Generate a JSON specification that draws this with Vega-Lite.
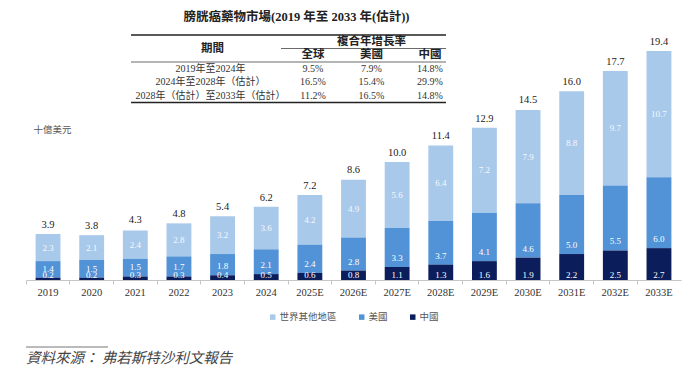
{
  "$schema": "https://vega.github.io/schema/vega-lite/v6.json",
  "padding": {"left": 25, "top": 10, "right": 5, "bottom": 0},
  "spacing": 24,
  "resolve": {"legend": {"color": "independent"}},
  "datasets": {
    "bars": [
      {"year": "2019", "region": "世界其他地區", "value": 2.3}, {"year": "2019", "region": "美國", "value": 1.4}, {"year": "2019", "region": "中國", "value": 0.2},
      {"year": "2020", "region": "世界其他地區", "value": 2.1}, {"year": "2020", "region": "美國", "value": 1.5}, {"year": "2020", "region": "中國", "value": 0.2},
      {"year": "2021", "region": "世界其他地區", "value": 2.4}, {"year": "2021", "region": "美國", "value": 1.5}, {"year": "2021", "region": "中國", "value": 0.3},
      {"year": "2022", "region": "世界其他地區", "value": 2.8}, {"year": "2022", "region": "美國", "value": 1.7}, {"year": "2022", "region": "中國", "value": 0.3},
      {"year": "2023", "region": "世界其他地區", "value": 3.2}, {"year": "2023", "region": "美國", "value": 1.8}, {"year": "2023", "region": "中國", "value": 0.4},
      {"year": "2024", "region": "世界其他地區", "value": 3.6}, {"year": "2024", "region": "美國", "value": 2.1}, {"year": "2024", "region": "中國", "value": 0.5},
      {"year": "2025E", "region": "世界其他地區", "value": 4.2}, {"year": "2025E", "region": "美國", "value": 2.4}, {"year": "2025E", "region": "中國", "value": 0.6},
      {"year": "2026E", "region": "世界其他地區", "value": 4.9}, {"year": "2026E", "region": "美國", "value": 2.8}, {"year": "2026E", "region": "中國", "value": 0.8},
      {"year": "2027E", "region": "世界其他地區", "value": 5.6}, {"year": "2027E", "region": "美國", "value": 3.3}, {"year": "2027E", "region": "中國", "value": 1.1},
      {"year": "2028E", "region": "世界其他地區", "value": 6.4}, {"year": "2028E", "region": "美國", "value": 3.7}, {"year": "2028E", "region": "中國", "value": 1.3},
      {"year": "2029E", "region": "世界其他地區", "value": 7.2}, {"year": "2029E", "region": "美國", "value": 4.1}, {"year": "2029E", "region": "中國", "value": 1.6},
      {"year": "2030E", "region": "世界其他地區", "value": 7.9}, {"year": "2030E", "region": "美國", "value": 4.6}, {"year": "2030E", "region": "中國", "value": 1.9},
      {"year": "2031E", "region": "世界其他地區", "value": 8.8}, {"year": "2031E", "region": "美國", "value": 5.0}, {"year": "2031E", "region": "中國", "value": 2.2},
      {"year": "2032E", "region": "世界其他地區", "value": 9.7}, {"year": "2032E", "region": "美國", "value": 5.5}, {"year": "2032E", "region": "中國", "value": 2.5},
      {"year": "2033E", "region": "世界其他地區", "value": 10.7}, {"year": "2033E", "region": "美國", "value": 6.0}, {"year": "2033E", "region": "中國", "value": 2.7}
    ],
    "totals": [
      {"year": "2019", "total": 3.9}, {"year": "2020", "total": 3.8}, {"year": "2021", "total": 4.3},
      {"year": "2022", "total": 4.8}, {"year": "2023", "total": 5.4}, {"year": "2024", "total": 6.2},
      {"year": "2025E", "total": 7.2}, {"year": "2026E", "total": 8.6}, {"year": "2027E", "total": 10.0},
      {"year": "2028E", "total": 11.4}, {"year": "2029E", "total": 12.9}, {"year": "2030E", "total": 14.5},
      {"year": "2031E", "total": 16.0}, {"year": "2032E", "total": 17.7}, {"year": "2033E", "total": 19.4}
    ],
    "table": [
      {"row": "h1", "col": "美國", "label": "複合年增長率"},
      {"row": "h1", "col": "期間", "label": "期間"},
      {"row": "h2", "col": "全球", "label": "全球"},
      {"row": "h2", "col": "美國", "label": "美國"},
      {"row": "h2", "col": "中國", "label": "中國"},
      {"row": "r1", "col": "期間", "label": "2019年至2024年"},
      {"row": "r1", "col": "全球", "label": "9.5%"},
      {"row": "r1", "col": "美國", "label": "7.9%"},
      {"row": "r1", "col": "中國", "label": "14.8%"},
      {"row": "r2", "col": "期間", "label": "2024年至2028年（估計）"},
      {"row": "r2", "col": "全球", "label": "16.5%"},
      {"row": "r2", "col": "美國", "label": "15.4%"},
      {"row": "r2", "col": "中國", "label": "29.9%"},
      {"row": "r3", "col": "期間", "label": "2028年（估計）至2033年（估計）"},
      {"row": "r3", "col": "全球", "label": "11.2%"},
      {"row": "r3", "col": "美國", "label": "16.5%"},
      {"row": "r3", "col": "中國", "label": "14.8%"}
    ]
  },
  "vconcat": [
    {
      "width": 655,
      "height": 245,
      "title": {"text": "膀胱癌藥物市場(2019 年至 2033 年(估計))", "anchor": "middle", "frame": "group", "dx": -57, "offset": 11, "fontSize": 12.5, "fontWeight": "bold", "font": "'Liberation Serif', 'Noto Sans CJK TC'", "color": "#222"},
      "layer": [
        {
          "data": {"name": "bars"},
          "transform": [{"calculate": "indexof(['中國','美國','世界其他地區'], datum.region)", "as": "stackOrder"}],
          "encoding": {
            "x": {"field": "year", "type": "nominal",
              "scale": {"domain": ["2019","2020","2021","2022","2023","2024","2025E","2026E","2027E","2028E","2029E","2030E","2031E","2032E","2033E"], "paddingInner": 0.43, "paddingOuter": 0.22},
              "axis": {"title": null, "labelAngle": 0, "labelFont": "Liberation Serif", "labelFontSize": 10.5, "labelColor": "#333", "labelPadding": 3, "domainColor": "#c6c6c6", "tickColor": "#c6c6c6", "tickSize": 4, "bandPosition": -0.377, "grid": false}}
          },
          "layer": [
            {
              "mark": {"type": "bar"},
              "encoding": {
                "y": {"field": "value", "type": "quantitative", "stack": "zero", "scale": {"domain": [0, 20.76], "nice": false}, "axis": {"title": "十億美元"}},
                "color": {"field": "region", "type": "nominal",
                  "scale": {"domain": ["世界其他地區", "美國", "中國"], "range": ["#a9c9eb", "#5292d6", "#0b1e5b"]},
                  "legend": {"title": null, "orient": "bottom", "direction": "horizontal", "symbolType": "square", "symbolSize": 30, "symbolStrokeWidth": 0, "labelFont": "Noto Sans CJK TC", "labelFontSize": 9.5, "labelColor": "#555", "columnPadding": 20, "labelOffset": 2, "offset": 14}},
                "order": {"field": "stackOrder", "type": "quantitative"}
              }
            },
            {
              "mark": {"type": "text", "font": "Liberation Serif", "fontSize": 9, "fill": "#ffffff", "dy": -5},
              "encoding": {
                "y": {"field": "value", "type": "quantitative", "stack": "zero", "bandPosition": 0, "scale": {"domain": [0, 20.76], "nice": false}, "axis": {"title": "十億美元"}},
                "detail": {"field": "region"},
                "order": {"field": "stackOrder", "type": "quantitative"},
                "text": {"condition": {"test": "datum.region === '中國'", "field": "value", "type": "quantitative", "format": ".1f"}, "value": ""}
              }
            },
            {
              "mark": {"type": "text", "font": "Liberation Serif", "fontSize": 9, "fill": "#ffffff", "dy": -9},
              "encoding": {
                "y": {"field": "value", "type": "quantitative", "stack": "zero", "bandPosition": 0, "scale": {"domain": [0, 20.76], "nice": false}, "axis": {"title": "十億美元"}},
                "detail": {"field": "region"},
                "order": {"field": "stackOrder", "type": "quantitative"},
                "text": {"condition": {"test": "datum.region === '美國'", "field": "value", "type": "quantitative", "format": ".1f"}, "value": ""}
              }
            },
            {
              "mark": {"type": "text", "font": "Liberation Serif", "fontSize": 9, "fill": "#ffffff", "opacity": 0.9},
              "encoding": {
                "y": {"field": "value", "type": "quantitative", "stack": "zero", "bandPosition": 0.5, "scale": {"domain": [0, 20.76], "nice": false}, "axis": {"title": "十億美元"}},
                "detail": {"field": "region"},
                "order": {"field": "stackOrder", "type": "quantitative"},
                "text": {"condition": {"test": "datum.region === '世界其他地區'", "field": "value", "type": "quantitative", "format": ".1f"}, "value": ""}
              }
            },
            {
              "data": {"name": "totals"},
              "mark": {"type": "text", "baseline": "bottom", "dy": -4, "font": "Liberation Serif", "fontSize": 10.5, "fill": "#222"},
              "encoding": {
                "y": {"field": "total", "type": "quantitative", "scale": {"domain": [0, 20.76], "nice": false}, "axis": {"title": "十億美元"}},
                "text": {"field": "total", "type": "quantitative", "format": ".1f"}
              }
            }
          ]
        },
        {
          "data": {"name": "table"},
          "encoding": {
            "x": {"field": "col", "type": "nominal", "scale": {"type": "point", "domain": ["期間", "全球", "美國", "中國"], "range": [228.5, 404], "padding": 0}, "axis": null}
          },
          "layer": [
            {
              "data": {"values": [{"row": "h1", "col": "期間", "to": "中國"}]},
              "mark": {"type": "rule", "color": "#222", "strokeWidth": 1.5, "xOffset": -123.5, "x2Offset": 16},
              "encoding": {
                "y": {"field": "row", "type": "nominal", "bandPosition": 0, "scale": {"type": "band", "domain": ["h1", "h2", "r1", "r2", "r3"], "range": [0, 67.5], "paddingInner": 0, "paddingOuter": 0}, "axis": null},
                "x2": {"field": "to"}
              }
            },
            {
              "data": {"values": [{"row": "h1", "col": "全球", "to": "中國"}]},
              "mark": {"type": "rule", "color": "#444", "strokeWidth": 0.8, "xOffset": -32, "x2Offset": 16},
              "encoding": {
                "y": {"field": "row", "type": "nominal", "bandPosition": 1, "scale": {"type": "band", "domain": ["h1", "h2", "r1", "r2", "r3"], "range": [0, 67.5], "paddingInner": 0, "paddingOuter": 0}, "axis": null},
                "x2": {"field": "to"}
              }
            },
            {
              "data": {"values": [{"row": "h2", "col": "期間", "to": "中國"}]},
              "mark": {"type": "rule", "color": "#444", "strokeWidth": 0.8, "xOffset": -123.5, "x2Offset": 16},
              "encoding": {
                "y": {"field": "row", "type": "nominal", "bandPosition": 1, "scale": {"type": "band", "domain": ["h1", "h2", "r1", "r2", "r3"], "range": [0, 67.5], "paddingInner": 0, "paddingOuter": 0}, "axis": null},
                "x2": {"field": "to"}
              }
            },
            {
              "data": {"values": [{"row": "r3", "col": "期間", "to": "中國"}]},
              "mark": {"type": "rule", "color": "#222", "strokeWidth": 1.5, "xOffset": -123.5, "x2Offset": 16},
              "encoding": {
                "y": {"field": "row", "type": "nominal", "bandPosition": 1, "scale": {"type": "band", "domain": ["h1", "h2", "r1", "r2", "r3"], "range": [0, 67.5], "paddingInner": 0, "paddingOuter": 0}, "axis": null},
                "x2": {"field": "to"}
              }
            },
            {
              "transform": [{"filter": "datum.row === 'h2' || (datum.row === 'h1' && datum.col !== '期間')"}],
              "mark": {"type": "text", "font": "'Liberation Serif', 'Noto Sans CJK TC'", "fontSize": 11.5, "fontWeight": "bold", "fill": "#222"},
              "encoding": {
                "y": {"field": "row", "type": "nominal", "scale": {"type": "band", "domain": ["h1", "h2", "r1", "r2", "r3"], "range": [0, 67.5], "paddingInner": 0, "paddingOuter": 0}, "axis": null},
                "text": {"field": "label"}
              }
            },
            {
              "transform": [{"filter": "datum.row === 'h1' && datum.col === '期間'"}],
              "mark": {"type": "text", "font": "'Liberation Serif', 'Noto Sans CJK TC'", "fontSize": 11.5, "fontWeight": "bold", "fill": "#222", "dx": -42},
              "encoding": {
                "y": {"field": "row", "type": "nominal", "bandPosition": 1, "scale": {"type": "band", "domain": ["h1", "h2", "r1", "r2", "r3"], "range": [0, 67.5], "paddingInner": 0, "paddingOuter": 0}, "axis": null},
                "text": {"field": "label"}
              }
            },
            {
              "transform": [{"filter": "datum.row !== 'h1' && datum.row !== 'h2' && datum.col === '期間'"}],
              "mark": {"type": "text", "font": "'Liberation Serif', 'Noto Sans CJK TC'", "fontSize": 10, "fill": "#333", "dx": -44},
              "encoding": {
                "y": {"field": "row", "type": "nominal", "scale": {"type": "band", "domain": ["h1", "h2", "r1", "r2", "r3"], "range": [0, 67.5], "paddingInner": 0, "paddingOuter": 0}, "axis": null},
                "text": {"field": "label"}
              }
            },
            {
              "transform": [{"filter": "datum.row !== 'h1' && datum.row !== 'h2' && datum.col !== '期間'"}],
              "mark": {"type": "text", "font": "'Liberation Serif', 'Noto Sans CJK TC'", "fontSize": 10, "fill": "#333"},
              "encoding": {
                "y": {"field": "row", "type": "nominal", "scale": {"type": "band", "domain": ["h1", "h2", "r1", "r2", "r3"], "range": [0, 67.5], "paddingInner": 0, "paddingOuter": 0}, "axis": null},
                "text": {"field": "label"}
              }
            }
          ]
        }
      ],
      "resolve": {"scale": {"x": "independent", "y": "independent"}, "axis": {"x": "independent", "y": "independent"}}
    },
    {
      "width": 82,
      "height": 1,
      "data": {"values": [{"part": "source"}]},
      "mark": {"type": "rule", "color": "#777", "strokeWidth": 1},
      "encoding": {"y": {"datum": 0, "type": "quantitative", "scale": {"domain": [0, 1]}, "axis": null}},
      "title": {"text": "資料來源：   弗若斯特沙利文報告", "orient": "bottom", "anchor": "start", "frame": "group", "font": "Noto Sans CJK TC", "fontSize": 14.5, "fontStyle": "italic", "fontWeight": "normal", "color": "#444", "offset": 4, "baseline": "top"}
    }
  ],
  "config": {
    "view": {"stroke": null},
    "legend": {"layout": {"bottom": {"anchor": "middle"}}},
    "axisY": {"labels": false, "ticks": false, "domain": false, "grid": false, "titleAngle": 0, "titleAlign": "left", "titleBaseline": "middle", "titleX": 7, "titleY": 94, "titleFont": "Noto Sans CJK TC", "titleFontSize": 9.5, "titleFontWeight": "normal", "titleColor": "#555"}
  }
}
